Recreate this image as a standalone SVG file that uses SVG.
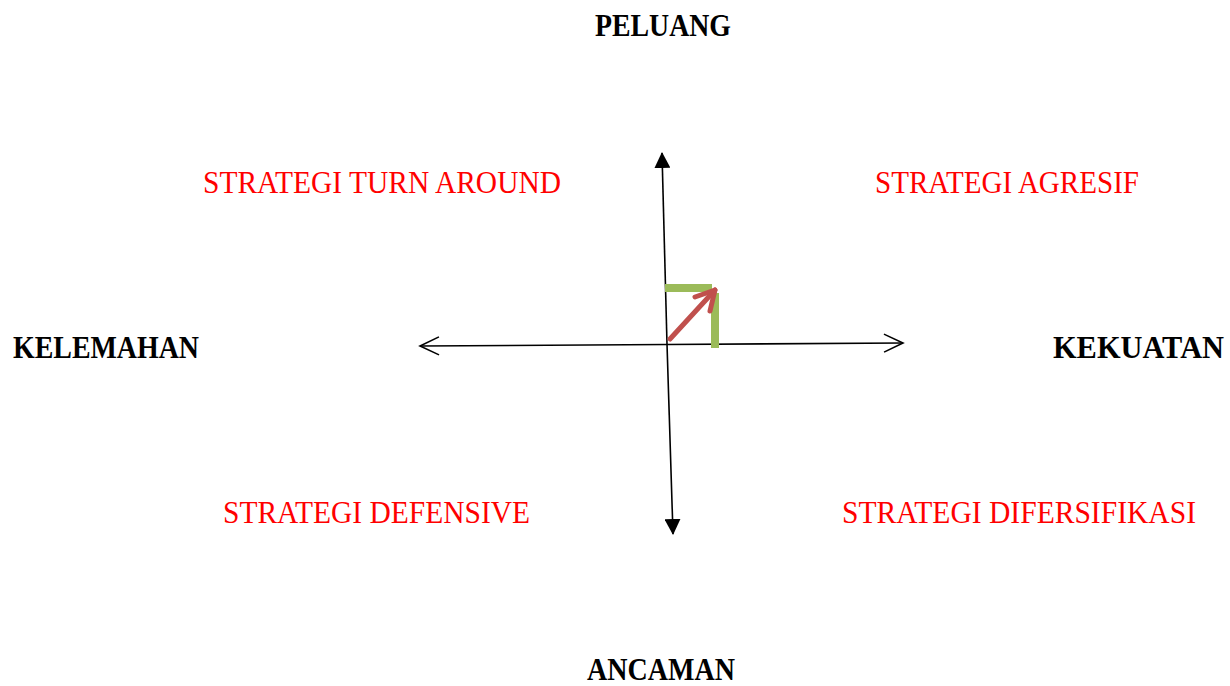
<svg xmlns="http://www.w3.org/2000/svg" width="1230" height="686" viewBox="0 0 1230 686">
<style>
.axis{font-family:"Liberation Serif","DejaVu Serif",serif;font-weight:bold;font-size:31px;fill:#000}
.strat{font-family:"Liberation Serif","DejaVu Serif",serif;font-size:31px;fill:#ff0000}
.ax{stroke:#000;stroke-width:1.6;fill:none}
</style>
<defs>
<marker id="tri" viewBox="0 0 16 16" refX="15" refY="8" markerWidth="16" markerHeight="16" markerUnits="userSpaceOnUse" orient="auto">
<path d="M0,0 L16,8 L0,16 Z" fill="#000"/>
</marker>
<marker id="open" viewBox="0 0 22 20" refX="20" refY="10" markerWidth="22" markerHeight="20" markerUnits="userSpaceOnUse" orient="auto">
<path d="M1,1 L20,10 L1,19" fill="none" stroke="#000" stroke-width="1.6"/>
</marker>
</defs>
<rect width="1230" height="686" fill="#fff"/>
<g id="connectors">
<line class="ax" x1="667" y1="344" x2="662" y2="153" marker-end="url(#tri)"/>
<line class="ax" x1="667" y1="344" x2="673" y2="534" marker-end="url(#tri)"/>
<line class="ax" x1="667" y1="344.5" x2="420" y2="346" marker-end="url(#open)"/>
<line class="ax" x1="667" y1="344.5" x2="903" y2="343" marker-end="url(#open)"/>
</g>
<g id="indicator">
<path d="M665,288 H712" stroke="#9bbb59" stroke-width="8" fill="none"/>
<path d="M715,293 V348" stroke="#9bbb59" stroke-width="8" fill="none"/>
<path d="M670,339 L715,290" stroke="#c0504d" stroke-width="5" stroke-linecap="round" fill="none"/>
<path d="M695,297 L715,290 L710,311" stroke="#c0504d" stroke-width="5" stroke-linecap="round" stroke-linejoin="round" fill="none"/>
</g>
<g id="peluang"><text class="axis" x="595" y="36" textLength="136" lengthAdjust="spacingAndGlyphs">PELUANG</text></g>
<g id="ancaman"><text class="axis" x="587" y="680" textLength="148" lengthAdjust="spacingAndGlyphs">ANCAMAN</text></g>
<g id="kelemahan"><text class="axis" x="13" y="358" textLength="186" lengthAdjust="spacingAndGlyphs">KELEMAHAN</text></g>
<g id="kekuatan"><text class="axis" x="1053" y="358" textLength="171" lengthAdjust="spacingAndGlyphs">KEKUATAN</text></g>
<g id="turnaround"><text class="strat" x="203" y="193" textLength="358" lengthAdjust="spacingAndGlyphs">STRATEGI TURN AROUND</text></g>
<g id="agresif"><text class="strat" x="875" y="193" textLength="264" lengthAdjust="spacingAndGlyphs">STRATEGI AGRESIF</text></g>
<g id="defensive"><text class="strat" x="223" y="523" textLength="307" lengthAdjust="spacingAndGlyphs">STRATEGI DEFENSIVE</text></g>
<g id="difersifikasi"><text class="strat" x="842" y="523" textLength="354" lengthAdjust="spacingAndGlyphs">STRATEGI DIFERSIFIKASI</text></g>
</svg>
